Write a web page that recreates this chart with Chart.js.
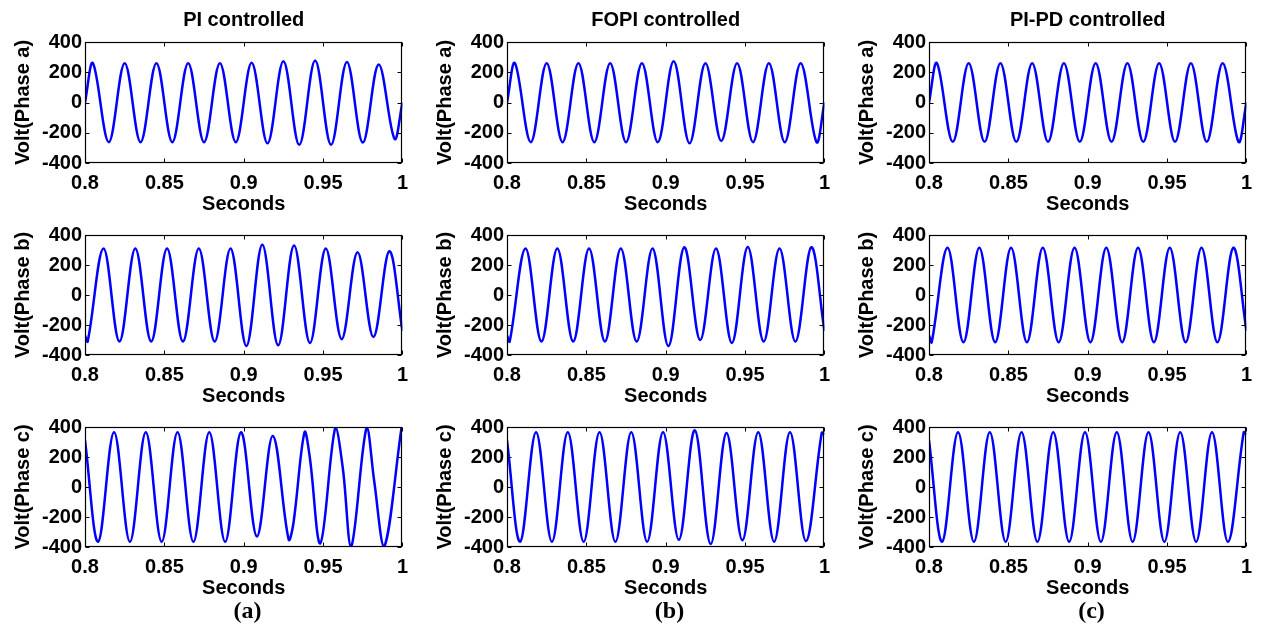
<!DOCTYPE html>
<html><head><meta charset="utf-8">
<script src="https://cdn.jsdelivr.net/npm/chart.js@4.4.1/dist/chart.umd.min.js"></script>
<style>
html,body{margin:0;padding:0;background:#fff;width:1262px;height:635px;overflow:hidden}
.panel{position:absolute}
.panel canvas{display:block}
.sub{position:absolute;width:100px;text-align:center;font-family:'Liberation Serif','Times New Roman',serif;font-weight:bold;font-size:24px;line-height:24px;color:#000}
</style></head><body>
<div id="root"></div>
<script>
// ---------- text ----------
const controllers = ['PI controlled', 'FOPI controlled', 'PI-PD controlled'];
const subLabels = ['(a)', '(b)', '(c)'];
const phaseTitles = ['Volt(Phase a)', 'Volt(Phase b)', 'Volt(Phase c)'];
const xTitle = 'Seconds';
const xTickValues = [0.8, 0.85, 0.9, 0.95, 1];
const xTickLabels = ['0.8', '0.85', '0.9', '0.95', '1'];
const yTickValues = [-400, -200, 0, 200, 400];
const yTickLabels = ['-400', '-200', '0', '200', '400'];

// ---------- sample times: window ends plus every peak / trough ----------
const timeA = [0.8, 0.805, 0.815, 0.825, 0.835, 0.845, 0.855, 0.865, 0.875, 0.885, 0.895, 0.905, 0.915, 0.925, 0.935, 0.945, 0.955, 0.965, 0.975, 0.985, 0.995, 1.0];
const timeB = [0.8, 0.8017, 0.8117, 0.8217, 0.8317, 0.8417, 0.8517, 0.8617, 0.8717, 0.8817, 0.8917, 0.9017, 0.9117, 0.9217, 0.9317, 0.9417, 0.9517, 0.9617, 0.9717, 0.9817, 0.9917, 1.0];
const timeC = [0.8, 0.8083, 0.8183, 0.8283, 0.8383, 0.8483, 0.8583, 0.8683, 0.8783, 0.8883, 0.8983, 0.9083, 0.9183, 0.9283, 0.9383, 0.9483, 0.9583, 0.9683, 0.9783, 0.9883, 0.9983, 1.0];
// PI phase c is distorted: extra shoulder points on some edges
const timePiC = [0.8, 0.8083, 0.8183, 0.8283, 0.8383, 0.8483, 0.8583, 0.8683, 0.8783, 0.8883, 0.8983, 0.9083, 0.9183, 0.9283, 0.9312, 0.9383, 0.9416, 0.9483, 0.9578, 0.9625, 0.9677, 0.9775, 0.9822, 0.9885, 0.9995, 1.0];

// ---------- voltages (V) ----------
const piA   = [0, 260, -262, 260, -262, 260, -262, 260, -262, 260, -262, 262, -270, 272, -280, 278, -280, 268, -265, 252, -240, 0];
const fopiA = [0, 260, -262, 260, -262, 260, -262, 260, -262, 260, -262, 272, -270, 260, -255, 260, -262, 260, -262, 260, -262, 0];
const pipdA = [0, 260, -260, 260, -260, 260, -260, 260, -260, 260, -260, 260, -260, 260, -260, 260, -260, 260, -260, 260, -260, 0];

const piB   = [-270, -310, 310, -310, 310, -310, 310, -310, 310, -310, 310, -340, 335, -335, 330, -320, 310, -295, 285, -280, 292, -240];
const fopiB = [-270, -310, 310, -310, 310, -310, 310, -310, 310, -310, 310, -340, 318, -300, 310, -320, 320, -310, 310, -310, 318, -240];
const pipdB = [-270, -315, 315, -315, 315, -315, 315, -315, 315, -315, 315, -315, 315, -315, 315, -315, 315, -315, 315, -315, 315, -240];

const piC   = [310, -365, 365, -365, 365, -365, 365, -365, 365, -365, 365, -330, 340, -350, -250, 365, 200, -375, 400, 120, -400, 400, 40, -400, 400, 400];
const fopiC = [310, -365, 365, -365, 365, -365, 365, -365, 365, -365, 365, -352, 378, -380, 360, -355, 365, -365, 365, -360, 362, 350];
const pipdC = [310, -365, 365, -365, 365, -365, 365, -365, 365, -365, 365, -365, 365, -365, 365, -365, 365, -365, 365, -365, 365, 350];

// ---------- grid of panels ----------
const panels = [
  {row: 0, col: 0, t: timeA, v: piA},   {row: 0, col: 1, t: timeA, v: fopiA}, {row: 0, col: 2, t: timeA, v: pipdA},
  {row: 1, col: 0, t: timeB, v: piB},   {row: 1, col: 1, t: timeB, v: fopiB}, {row: 1, col: 2, t: timeB, v: pipdB},
  {row: 2, col: 0, t: timePiC, v: piC}, {row: 2, col: 1, t: timeC, v: fopiC}, {row: 2, col: 2, t: timeC, v: pipdC}
];

const plotLeft = [85, 507, 929];
const plotTop = [42, 234, 426];
const plotW = 321, plotH = 121;
const yAxisW = 85, xAxisH = 53, padR = 10, padTop = 14;

Chart.defaults.font.family = "'Liberation Sans', Arial, Helvetica, sans-serif";
Chart.defaults.font.weight = 'bold';
Chart.defaults.color = '#000';

const boxPlugin = {
  id: 'boxTicks',
  afterDatasetsDraw(chart) {
    const {ctx, chartArea: a} = chart;
    const xs = chart.scales.x, ys = chart.scales.y;
    const L = Math.round(a.left) + 0.5, R = Math.round(a.right) - 0.5;
    const T = Math.round(a.top) + 0.5, B = Math.round(a.bottom) - 0.5;
    ctx.save();
    ctx.strokeStyle = '#000';
    ctx.lineWidth = 1.2;
    ctx.strokeRect(L, T, R - L, B - T);
    ctx.beginPath();
    ctx.lineWidth = 1;
    xs.ticks.forEach(tk => {
      const px = Math.round(xs.getPixelForValue(tk.value)) + 0.5;
      ctx.moveTo(px, T); ctx.lineTo(px, T + 4);
      ctx.moveTo(px, B); ctx.lineTo(px, B - 4);
    });
    ys.ticks.forEach(tk => {
      const py = Math.round(ys.getPixelForValue(tk.value)) + 0.5;
      ctx.moveTo(L, py); ctx.lineTo(L + 4, py);
      ctx.moveTo(R, py); ctx.lineTo(R - 4, py);
    });
    ctx.stroke();
    ctx.restore();
  }
};

const root = document.getElementById('root');

panels.forEach(p => {
  const top = p.row === 0 ? 0 : plotTop[p.row] - padTop;
  const height = (p.row === 0 ? plotTop[0] : padTop) + plotH + xAxisH;
  const left = plotLeft[p.col] - yAxisW;
  const width = yAxisW + plotW + padR;
  const div = document.createElement('div');
  div.className = 'panel';
  div.style.left = left + 'px';
  div.style.top = top + 'px';
  div.style.width = width + 'px';
  div.style.height = height + 'px';
  const cv = document.createElement('canvas');
  cv.width = width; cv.height = height;
  cv.style.width = width + 'px'; cv.style.height = height + 'px';
  div.appendChild(cv);
  root.appendChild(div);

  new Chart(cv, {
    type: 'line',
    data: {
      datasets: [{
        data: p.t.map((t, i) => ({x: t, y: p.v[i]})),
        borderColor: '#0000ff',
        borderWidth: 2.5,
        pointRadius: 0,
        tension: 0.36,
        fill: false
      }]
    },
    options: {
      responsive: false,
      animation: false,
      devicePixelRatio: 1,
      events: [],
      layout: {padding: {top: p.row === 0 ? 0 : padTop, right: padR, bottom: 0, left: 0}},
      plugins: {
        legend: {display: false},
        tooltip: {enabled: false},
        title: {
          display: p.row === 0,
          fullSize: false,
          text: controllers[p.col],
          font: {size: 20, weight: 'bold'},
          color: '#000',
          padding: {top: 8, bottom: 10}
        }
      },
      scales: {
        x: {
          type: 'linear', min: 0.8, max: 1,
          grid: {display: false, drawTicks: false}, border: {display: false},
          afterBuildTicks: s => { s.ticks = xTickValues.map(v => ({value: v})); },
          afterFit: s => { s.height = xAxisH; },
          ticks: {
            padding: 8, maxRotation: 0, autoSkip: false,
            font: {size: 20, weight: 'bold'}, color: '#000',
            callback: (v, i) => xTickLabels[i]
          },
          title: {display: true, text: xTitle, font: {size: 20, weight: 'bold'}, color: '#000', padding: {top: 0, bottom: 0}}
        },
        y: {
          type: 'linear', min: -400, max: 400,
          grid: {display: false, drawTicks: false}, border: {display: false},
          afterBuildTicks: s => { s.ticks = yTickValues.map(v => ({value: v})); },
          afterFit: s => { s.width = yAxisW; },
          ticks: {
            padding: 3, autoSkip: false,
            font: {size: 20, weight: 'bold'}, color: '#000',
            callback: (v, i) => yTickLabels[i]
          },
          title: {display: true, text: phaseTitles[p.row], font: {size: 20, weight: 'bold'}, color: '#000', padding: {top: 11, bottom: 0}}
        }
      }
    },
    plugins: [boxPlugin]
  });
});

subLabels.forEach((s, c) => {
  const d = document.createElement('div');
  d.className = 'sub';
  d.textContent = s;
  d.style.left = (plotLeft[c] + plotW / 2 + 2 - 50) + 'px';
  d.style.top = '598px';
  root.appendChild(d);
});
</script>
</body></html>
